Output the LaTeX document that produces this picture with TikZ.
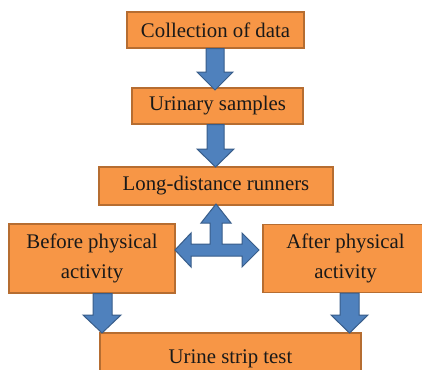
\documentclass[tikz,border=0pt]{standalone}
\usepackage{fontspec}
\setmainfont{Liberation Serif}
\definecolor{boxfill}{HTML}{F79646}
\definecolor{boxedge}{HTML}{B66D31}
\definecolor{arrfill}{HTML}{4F81BD}
\definecolor{arredge}{HTML}{385D8A}
\tikzset{
  stepbox/.style={draw=boxedge, fill=boxfill, line width=1.2pt, inner sep=0pt,
    align=center, text=black!90, font=\fontsize{20.8}{30}\selectfont},
  bigarrow/.style={draw=arredge, fill=arrfill, line width=1pt, line join=miter}
}
\begin{document}
\begin{tikzpicture}[x=1pt,y=-1pt]
\clip (0,0) rectangle (422,369);
\fill[white] (0,0) rectangle (422,369);
\node[stepbox, minimum width=177pt, minimum height=36pt] (b1) at (215.5,30) {Collection of data};
\node[stepbox, minimum width=171pt, minimum height=36pt] (b2) at (217.5,106) {Urinary samples};
\node[stepbox, minimum width=234pt, minimum height=38pt] (b3) at (216,186) {Long-distance runners};
\node[stepbox, minimum width=166pt, minimum height=69pt] (b4) at (92,258.5) {Before physical\\activity};
\node[stepbox, minimum width=165pt, minimum height=68pt] (b5) at (345.5,258.5) {After physical\\activity};
\node[stepbox, minimum width=261pt, minimum height=52pt] (b6) at (230.5,359) {Urine strip test};
% down arrow 1
\draw[bigarrow] (b1.south -| 206,0) -- (206,72) -- (197,72) -- (215,90) -- (233,72) -- (224,72) -- (b1.south -| 224,0) -- cycle;
% down arrow 2
\draw[bigarrow] (b2.south -| 207,0) -- (207,149) -- (197,149) -- (215.5,167) -- (234,149) -- (224,149) -- (b2.south -| 224,0) -- cycle;
% T arrow
\draw[bigarrow] (216,204) -- (231,223) -- (222,223) -- (222,244) -- (242,244) -- (242,233)
  -- (259,250) -- (242,267) -- (242,256) -- (191,256) -- (191,267) -- (175,250)
  -- (191,233) -- (191,244) -- (210,244) -- (210,223) -- (201,223) -- cycle;
% left down arrow
\draw[bigarrow] (b4.south -| 93,0) -- (93,315) -- (83,315) -- (102,333) -- (121,315) -- (112,315) -- (b4.south -| 112,0) -- cycle;
% right down arrow
\draw[bigarrow] (b5.south -| 340,0) -- (340,315) -- (331,315) -- (349.5,333) -- (368,315) -- (359,315) -- (b5.south -| 359,0) -- cycle;
\end{tikzpicture}
\end{document}
